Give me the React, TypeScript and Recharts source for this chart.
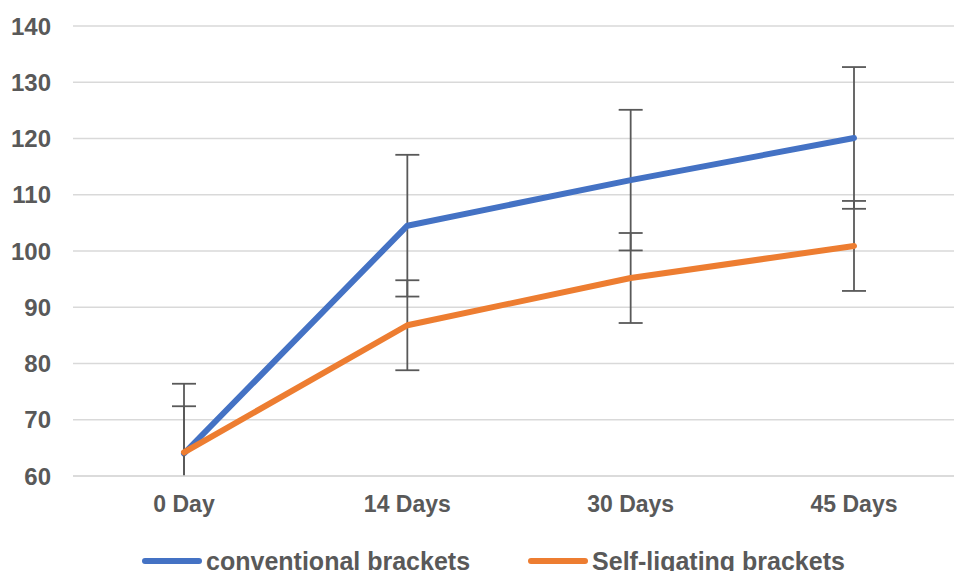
import React from "react";
import {
  LineChart,
  Line,
  XAxis,
  YAxis,
  CartesianGrid,
  ErrorBar,
  Legend,
} from "recharts";

const days = ["0 Day", "14 Days", "30 Days", "45 Days"];
const conventional = [64, 104.5, 112.6, 120.1];
const conventionalSd = [12.4, 12.6, 12.5, 12.6];
const selfLigating = [64.2, 86.8, 95.2, 100.9];
const selfLigatingSd = [8.2, 8.0, 8.0, 8.0];
const yTicks = [60, 70, 80, 90, 100, 110, 120, 130, 140];
const seriesNames = ["conventional brackets", "Self-ligating brackets"];
const seriesColors = ["#4472C4", "#ED7D31"];

const data = days.map((day, i) => ({
  day,
  conventional: conventional[i],
  conventionalSd: conventionalSd[i],
  selfLigating: selfLigating[i],
  selfLigatingSd: selfLigatingSd[i],
}));

const FONT = "'Liberation Sans', Arial, sans-serif";
const TEXT = "#595959";

// legend drawn in series order (recharts sorts by name otherwise)
function ChartLegend() {
  return (
    <div
      style={{
        display: "flex",
        justifyContent: "center",
        alignItems: "center",
        height: 40,
        boxSizing: "border-box",
        paddingTop: 19,
        paddingLeft: 33,
        fontFamily: FONT,
        fontWeight: "bold",
        fontSize: 25,
        color: TEXT,
        lineHeight: "20px",
      }}
    >
      {seriesNames.map((name, i) => (
        <div
          key={name}
          style={{
            display: "flex",
            alignItems: "center",
            marginLeft: i === 0 ? 0 : 58,
          }}
        >
          <svg width={60} height={8} style={{ marginRight: 4 }}>
            <line
              x1={3}
              y1={4}
              x2={57}
              y2={4}
              stroke={seriesColors[i]}
              strokeWidth={6}
              strokeLinecap="round"
            />
          </svg>
          <span>{name}</span>
        </div>
      ))}
    </div>
  );
}

export default function App() {
  return (
    <div style={{ position: "absolute", left: 0, top: 0 }}>
      <style>{`.recharts-errorBars, .recharts-errorBar { clip-path: url(#plotClip); }`}</style>
      <svg width={0} height={0} style={{ position: "absolute" }}>
        <defs>
          <clipPath id="plotClip" clipPathUnits="userSpaceOnUse">
            <rect x={0} y={0} width={954} height={476} />
          </clipPath>
        </defs>
      </svg>
      <LineChart
        width={954}
        height={571}
        data={data}
        margin={{ top: 26, right: 0, left: 0, bottom: 0 }}
      >
        <CartesianGrid vertical={false} stroke="#d9d9d9" strokeWidth={1.5} />
        <XAxis
          dataKey="day"
          padding={{ left: 111, right: 100 }}
          height={55}
          tickLine={false}
          tickSize={0}
          tickMargin={20}
          axisLine={{ stroke: "#d9d9d9", strokeWidth: 1.5 }}
          tick={{ fill: TEXT, fontSize: 23, fontWeight: "bold", fontFamily: FONT }}
        />
        <YAxis
          domain={[60, 140]}
          ticks={yTicks}
          allowDataOverflow
          width={73}
          axisLine={false}
          tickLine={false}
          tickSize={0}
          tickMargin={22}
          tick={{ fill: TEXT, fontSize: 24, fontWeight: "bold", fontFamily: FONT }}
        />
        <Legend verticalAlign="bottom" content={<ChartLegend />} />
        <Line
          dataKey="conventional"
          name={seriesNames[0]}
          stroke={seriesColors[0]}
          strokeWidth={6}
          strokeLinecap="round"
          strokeLinejoin="round"
          dot={false}
          activeDot={false}
          isAnimationActive={false}
        >
          <ErrorBar
            dataKey="conventionalSd"
            width={12}
            stroke="#595959"
            strokeWidth={1.8}
            isAnimationActive={false}
          />
        </Line>
        <Line
          dataKey="selfLigating"
          name={seriesNames[1]}
          stroke={seriesColors[1]}
          strokeWidth={6}
          strokeLinecap="round"
          strokeLinejoin="round"
          dot={false}
          activeDot={false}
          isAnimationActive={false}
        >
          <ErrorBar
            dataKey="selfLigatingSd"
            width={12}
            stroke="#595959"
            strokeWidth={1.8}
            isAnimationActive={false}
          />
        </Line>
      </LineChart>
    </div>
  );
}
